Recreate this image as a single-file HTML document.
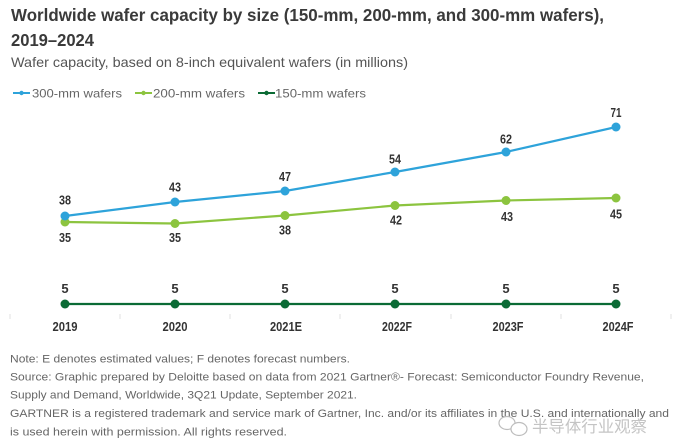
<!DOCTYPE html>
<html><head><meta charset="utf-8"><style>
html,body{margin:0;padding:0;background:#fff;}
svg{display:block;}
text{font-family:"Liberation Sans","Noto Sans CJK SC",sans-serif;}
</style></head><body>
<svg width="678" height="444" viewBox="0 0 678 444" xmlns="http://www.w3.org/2000/svg">
<rect width="678" height="444" fill="#fff"/>
<!-- Title -->
<text x="11" y="21" font-size="17.5" font-weight="bold" fill="#3a3a3a" textLength="593" lengthAdjust="spacingAndGlyphs">Worldwide wafer capacity by size (150-mm, 200-mm, and 300-mm wafers),</text>
<text x="11" y="46" font-size="17.5" font-weight="bold" fill="#3a3a3a" textLength="83" lengthAdjust="spacingAndGlyphs">2019–2024</text>
<text x="11" y="67" font-size="14" fill="#555" textLength="397" lengthAdjust="spacingAndGlyphs">Wafer capacity, based on 8-inch equivalent wafers (in millions)</text>
<!-- Legend -->
<line x1="13" y1="93" x2="30" y2="93" stroke="#2ea3da" stroke-width="2"/><circle cx="21.5" cy="93" r="2.2" fill="#2ea3da"/>
<text x="32" y="97.5" font-size="12" fill="#666" textLength="90" lengthAdjust="spacingAndGlyphs">300-mm wafers</text>
<line x1="135" y1="93" x2="152" y2="93" stroke="#8cc43f" stroke-width="2"/><circle cx="143.5" cy="93" r="2.2" fill="#8cc43f"/>
<text x="153" y="97.5" font-size="12" fill="#666" textLength="92" lengthAdjust="spacingAndGlyphs">200-mm wafers</text>
<line x1="258" y1="93" x2="275" y2="93" stroke="#0b6b35" stroke-width="2"/><circle cx="266.5" cy="93" r="2.2" fill="#0b6b35"/>
<text x="275" y="97.5" font-size="12" fill="#666" textLength="91" lengthAdjust="spacingAndGlyphs">150-mm wafers</text>
<!-- faint ticks -->
<g stroke="#e2e2e2" stroke-width="1">
<line x1="10" y1="314" x2="10" y2="319"/><line x1="120" y1="314" x2="120" y2="319"/><line x1="230" y1="314" x2="230" y2="319"/><line x1="340" y1="314" x2="340" y2="319"/><line x1="451" y1="314" x2="451" y2="319"/><line x1="561" y1="314" x2="561" y2="319"/><line x1="671" y1="314" x2="671" y2="319"/>
</g>
<!-- Series 150 -->
<polyline points="65,304 175,304 285,304 395,304 506,304 616,304" fill="none" stroke="#0b6b35" stroke-width="2.2"/>
<g fill="#0b6b35"><circle cx="65" cy="304" r="4.5"/><circle cx="175" cy="304" r="4.5"/><circle cx="285" cy="304" r="4.5"/><circle cx="395" cy="304" r="4.5"/><circle cx="506" cy="304" r="4.5"/><circle cx="616" cy="304" r="4.5"/></g>
<!-- Series 200 -->
<polyline points="65,222 175,223.5 285,215.5 395,205.5 506,200.5 616,198" fill="none" stroke="#8cc43f" stroke-width="2.2"/>
<g fill="#8cc43f"><circle cx="65" cy="222" r="4.5"/><circle cx="175" cy="223.5" r="4.5"/><circle cx="285" cy="215.5" r="4.5"/><circle cx="395" cy="205.5" r="4.5"/><circle cx="506" cy="200.5" r="4.5"/><circle cx="616" cy="198" r="4.5"/></g>
<!-- Series 300 -->
<polyline points="65,216 175,202 285,191 395,172 506,152 616,127" fill="none" stroke="#2ea3da" stroke-width="2.2"/>
<g fill="#2ea3da"><circle cx="65" cy="216" r="4.5"/><circle cx="175" cy="202" r="4.5"/><circle cx="285" cy="191" r="4.5"/><circle cx="395" cy="172" r="4.5"/><circle cx="506" cy="152" r="4.5"/><circle cx="616" cy="127" r="4.5"/></g>
<!-- Data labels -->
<g font-size="13" font-weight="bold" fill="#333" text-anchor="middle">
<text x="65" y="204.5" textLength="12" lengthAdjust="spacingAndGlyphs">38</text>
<text x="175" y="191.5" textLength="12" lengthAdjust="spacingAndGlyphs">43</text>
<text x="285" y="181" textLength="12" lengthAdjust="spacingAndGlyphs">47</text>
<text x="395" y="163.5" textLength="12" lengthAdjust="spacingAndGlyphs">54</text>
<text x="506" y="143.5" textLength="12" lengthAdjust="spacingAndGlyphs">62</text>
<text x="616" y="117" textLength="11" lengthAdjust="spacingAndGlyphs">71</text>
<text x="65" y="242" textLength="12" lengthAdjust="spacingAndGlyphs">35</text>
<text x="175" y="242" textLength="12" lengthAdjust="spacingAndGlyphs">35</text>
<text x="285" y="234.5" textLength="12" lengthAdjust="spacingAndGlyphs">38</text>
<text x="396" y="224.5" textLength="12" lengthAdjust="spacingAndGlyphs">42</text>
<text x="507" y="221" textLength="12" lengthAdjust="spacingAndGlyphs">43</text>
<text x="616" y="218.5" textLength="12" lengthAdjust="spacingAndGlyphs">45</text>
<text x="65" y="293">5</text>
<text x="175" y="293">5</text>
<text x="285" y="293">5</text>
<text x="395" y="293">5</text>
<text x="506" y="293">5</text>
<text x="616" y="293">5</text>
<text x="65" y="331" textLength="25" lengthAdjust="spacingAndGlyphs">2019</text>
<text x="175" y="331" textLength="25" lengthAdjust="spacingAndGlyphs">2020</text>
<text x="286" y="331" textLength="32" lengthAdjust="spacingAndGlyphs">2021E</text>
<text x="397" y="331" textLength="30" lengthAdjust="spacingAndGlyphs">2022F</text>
<text x="508" y="331" textLength="31" lengthAdjust="spacingAndGlyphs">2023F</text>
<text x="618" y="331" textLength="31" lengthAdjust="spacingAndGlyphs">2024F</text>
</g>
<!-- Footer -->
<g font-size="11" fill="#666">
<text x="10" y="362.5" textLength="340" lengthAdjust="spacingAndGlyphs">Note: E denotes estimated values; F denotes forecast numbers.</text>
<text x="10" y="380.5" textLength="634" lengthAdjust="spacingAndGlyphs">Source: Graphic prepared by Deloitte based on data from 2021 Gartner®- Forecast: Semiconductor Foundry Revenue,</text>
<text x="10" y="398.5" textLength="347" lengthAdjust="spacingAndGlyphs">Supply and Demand, Worldwide, 3Q21 Update, September 2021.</text>
<text x="10" y="417" textLength="659" lengthAdjust="spacingAndGlyphs">GARTNER is a registered trademark and service mark of Gartner, Inc. and/or its affiliates in the U.S. and internationally and</text>
<text x="10" y="435.5" textLength="277" lengthAdjust="spacingAndGlyphs">is used herein with permission. All rights reserved.</text>
</g>
<!-- Watermark -->
<g fill="none" stroke="#bdbdbd" stroke-width="1.2">
<ellipse cx="507" cy="423" rx="8" ry="6.5"/>
<ellipse cx="519" cy="429" rx="8" ry="6.5" fill="#fff"/>
</g>
<text x="532" y="432" font-size="16" fill="#c4c4c4" textLength="115" lengthAdjust="spacingAndGlyphs" style="font-family:'Noto Sans CJK SC','WenQuanYi Zen Hei',sans-serif">半导体行业观察</text>
</svg>
</body></html>
